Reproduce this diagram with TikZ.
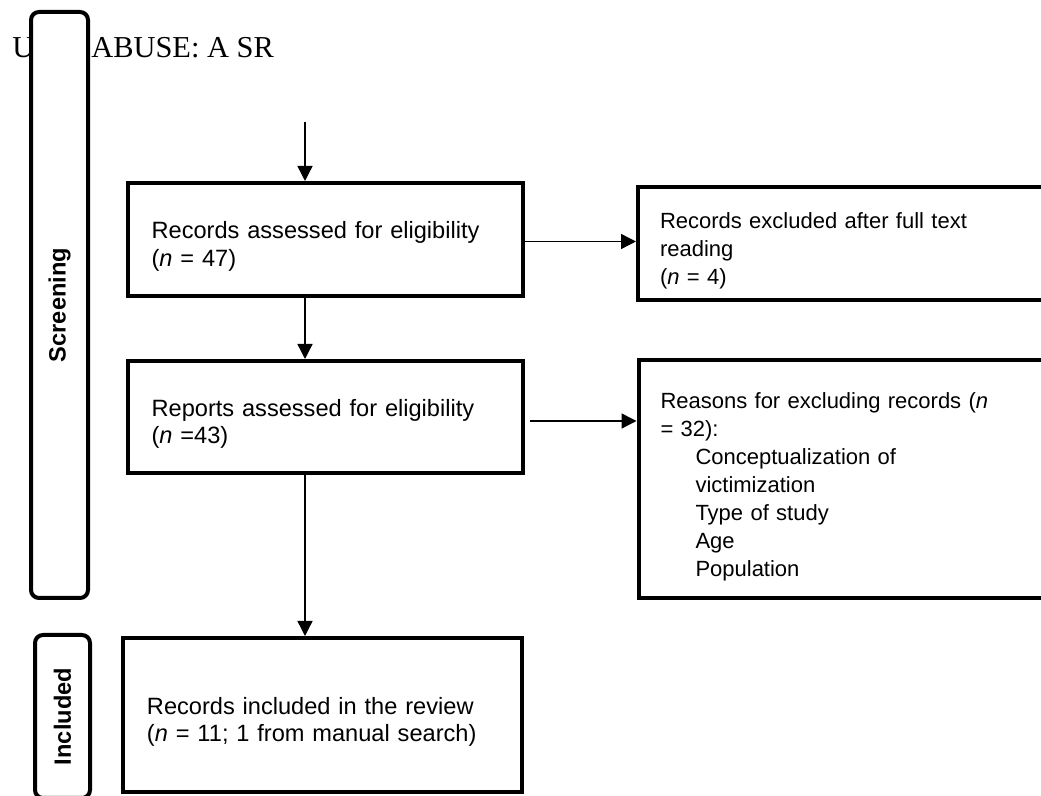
\documentclass[tikz,border=0pt]{standalone}
\usepackage{fontspec}
\setmainfont{Liberation Serif}
\setsansfont{Liberation Sans}
\usetikzlibrary{arrows.meta}

\tikzset{
  box/.style={draw, line width=2pt, align=left, inner ysep=4pt,
    execute at begin node={\rule{0pt}{15.5pt}}},
  leftbox/.style={box, inner xsep=11.8pt, text width=173.9pt, minimum width=197.5pt,
    font=\sffamily\fontsize{11.8}{13.7}\selectfont},
  rightbox/.style={box, inner xsep=11pt, text width=209pt, minimum width=231pt,
    font=\sffamily\fontsize{11}{14}\selectfont},
  phase/.style={draw, line width=2pt, rounded corners=4pt, fill=white, rotate=90,
    font=\sffamily\bfseries\fontsize{11.8}{14}\selectfont},
  arr/.style={-{Triangle[length=7.5pt,width=7.5pt]}, line width=0.7pt}
}

\begin{document}
\begin{tikzpicture}[x=0.5pt,y=-0.5pt]

      \clip (0,0) rectangle (1041,796);

      \begin{scope}[every node/.style={anchor=base west, inner sep=0pt,
          font=\rmfamily\fontsize{15.2}{18}\selectfont}]
        \node (h1) at (12,58) {U};
        \node (h2) at (91,58) {ABUSE: A SR};
      \end{scope}

      \node[phase, minimum width=293pt, minimum height=28.5pt] (scr) at (59.5,305) {Screening};
      \node[phase, minimum width=81.5pt, minimum height=27.5pt] (inc) at (62.5,716.5) {Included};

      \coordinate (in) at (305,122);

      \node[leftbox, minimum height=56.5pt] (b1) at (325.5,239.5)
        {Records assessed for eligibility\\(\textit{n} = 47)};
      \node[leftbox, minimum height=56pt] (b2) at (325.5,417)
        {Reports assessed for eligibility\\(\textit{n} =43)};
      \node[leftbox, inner xsep=12pt, text width=175.5pt, minimum width=199.5pt,
        minimum height=77pt] (b3) at (322.5,715)
        {Records included in the review\\(\textit{n} = 11; 1 from manual search)};

      \node[rightbox, minimum height=56.5pt] (r1) at (869,243.5)
        {Records excluded after full text\\reading\\(\textit{n} = 4)};
      \node[rightbox, minimum height=119pt] (r2) at (869.5,479)
        {Reasons for excluding records (\textit{n}\\= 32):\\
         \hspace*{17.5pt}Conceptualization of\\
         \hspace*{17.5pt}victimization\\
         \hspace*{17.5pt}Type of study\\
         \hspace*{17.5pt}Age\\
         \hspace*{17.5pt}Population};

      \begin{scope}[every path/.style={arr}]
        \draw (in) -- (in |- b1.north);
        \draw (in |- b1.south) -- (in |- b2.north);
        \draw (in |- b2.south) -- (in |- b3.north);
        \draw ([yshift=-1pt]b1.east) -- ([yshift=-1pt]b1.east -| r1.west);
        \draw ([xshift=2.5pt,yshift=-2pt]b2.east) -- ([yshift=-2pt]b2.east -| r2.west);
      \end{scope}

    \end{tikzpicture}
\end{document}
